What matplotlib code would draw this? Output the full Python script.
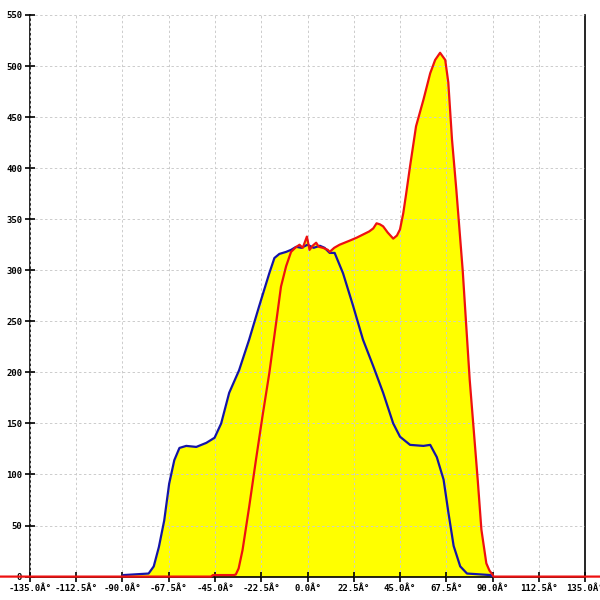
import matplotlib

matplotlib.use("Agg")
import matplotlib.pyplot as plt

# angle (deg) / value pairs
blue_deg = [-90.2, -89.5, -77.3, -74.8, -72.3, -69.7, -67.3, -64.8, -62.3, -59.0,
            -54.1, -49.2, -45.2, -42.0, -38.1, -33.3, -28.4, -23.5, -18.6, -16.1,
            -13.7, -10.4, -8.0, -5.5, -3.0, 0.0, 3.0, 6.0, 8.3, 10.8,
            13.2, 17.3, 22.2, 27.0, 32.0, 36.8, 41.7, 45.0, 49.9, 56.4,
            59.7, 62.9, 66.2, 68.6, 71.1, 74.3, 77.6, 89.0, 90.0]
blue_val = [0, 1.5, 3, 10, 29, 55, 91, 114, 126, 128,
            127, 131, 136, 150, 180, 202, 232, 265, 297, 312,
            316, 318, 320, 323, 322, 325, 322, 324, 322, 317,
            317, 297, 265, 232, 206, 180, 150, 137, 129, 128,
            129, 117, 95, 62, 30, 10, 3, 1.5, 0]

red_deg = [-150, -47, -46, -36, -34.9, -33.5, -31.6, -28.4, -25.1, -21.9,
           -18.6, -15.3, -12.9, -10.4, -8.0, -6.0, -3.9, -2.3, -0.3, 1.0,
           2.5, 4.2, 5.5, 7.5, 9.9, 10.8, 13.0, 15.6, 20.5, 24.0,
           27.0, 30.0, 32.0, 33.6, 35.2, 36.8, 39.0, 41.7, 43.5, 45.0,
           46.6, 48.0, 49.9, 52.8, 56.4, 59.7, 62.1, 64.5, 67.0, 68.5,
           70.3, 72.4, 75.5, 78.9, 82.8, 84.6, 87.0, 88.5, 90.0, 90.5, 143]
red_val = [0, 0, 1.5, 1.5, 2, 8, 26, 68, 114, 157,
           199, 248, 284, 304, 318, 322, 325, 322, 333, 320,
           324, 327, 323, 322, 320, 318, 322, 325, 329, 332,
           335, 338, 341, 346, 345, 343, 337, 331, 334, 340,
           356, 375, 402, 441, 467, 493, 506, 513, 506, 484,
           428, 379, 300, 193, 95, 46, 13, 6, 2, 0, 0]

x_ticks = [-135.0, -112.5, -90.0, -67.5, -45.0, -22.5, 0.0, 22.5, 45.0, 67.5, 90.0, 112.5, 135.0]
y_ticks = [0, 50, 100, 150, 200, 250, 300, 350, 400, 450, 500, 550]

fig = plt.figure(figsize=(6, 6), dpi=100)
ax = fig.add_axes([0.05, 0.039, 0.925, 0.936])

ax.fill_between(blue_deg, blue_val, 0, color="#ffff00", lw=0, zorder=1)
ax.fill_between(red_deg, red_val, 0, color="#ffff00", lw=0, zorder=1)
ax.plot(blue_deg, blue_val, color="#1414a8", lw=1.6, zorder=3)
ax.plot(red_deg, red_val, color="#ee1111", lw=1.6, zorder=4, clip_on=False)

ax.set_xlim(-135, 135)
ax.set_ylim(0, 550)
ax.set_xticks(x_ticks)
ax.set_xticklabels([f"{t:.1f}Â°" for t in x_ticks])
ax.set_yticks(y_ticks)
ax.set_yticklabels([str(t) for t in y_ticks])

ax.set_axisbelow(False)
ax.grid(True, color="#cccccc", linestyle=(0, (2.5, 2.5)), linewidth=0.7)
ax.spines["top"].set_visible(False)
for s in ("left", "right", "bottom"):
    ax.spines[s].set_linewidth(1.2)
ax.tick_params(direction="inout", length=7, width=1.2, pad=2,
               labelsize=6.5)
for lab in ax.get_xticklabels() + ax.get_yticklabels():
    lab.set_family("DejaVu Sans Mono")
    lab.set_fontweight("bold")

fig.savefig("out.png", dpi=100)
